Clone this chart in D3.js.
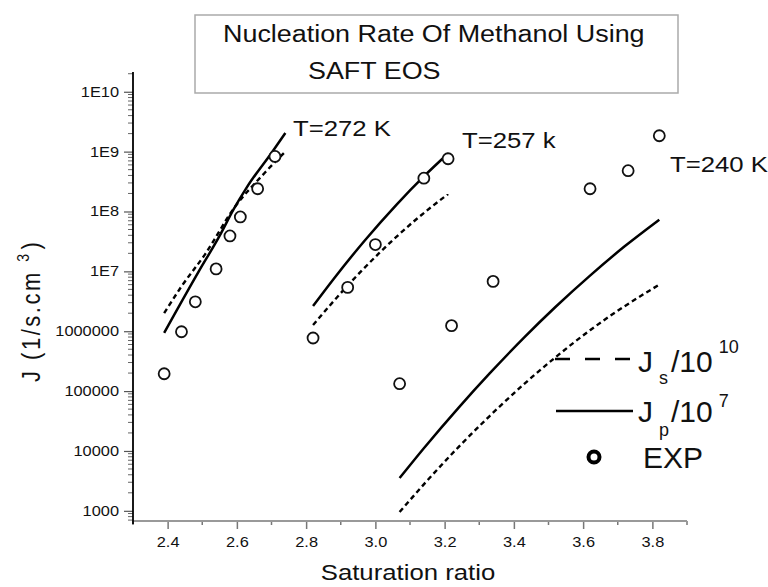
<!DOCTYPE html>
<html>
<head>
<meta charset="utf-8">
<script src="https://cdn.jsdelivr.net/npm/d3@7"></script>
<style>
  body { margin: 0; background: #fff; }
  text { font-family: "Liberation Sans", Arial, sans-serif; fill: #111; }
</style>
</head>
<body>
<svg id="chart" width="768" height="587"></svg>
<script>
// experimental points (EXP)
var satExp272 = [2.39, 2.44, 2.48, 2.54, 2.58, 2.61, 2.66, 2.71];
var jExp272 = [1.95e5, 9.8e5, 3.1e6, 1.1e7, 3.9e7, 8.1e7, 2.4e8, 8.3e8];
var satExp257 = [2.82, 2.92, 3.00, 3.14, 3.21];
var jExp257 = [7.7e5, 5.4e6, 2.8e7, 3.6e8, 7.6e8];
var satExp240 = [3.07, 3.22, 3.34, 3.62, 3.73, 3.82];
var jExp240 = [1.33e5, 1.24e6, 6.8e6, 2.4e8, 4.8e8, 1.84e9];

// Jp/10^7 (solid) and Js/10^10 (dashed)
var satJp272 = [2.39, 2.49, 2.55, 2.59, 2.63, 2.70, 2.74];
var jp272 = [9.4e5, 1.0e7, 3.9e7, 1.07e8, 2.6e8, 9.5e8, 2.04e9];
var satJs272 = [2.39, 2.44, 2.51, 2.59, 2.68, 2.74];
var js272 = [2.0e6, 5.6e6, 2.0e7, 1.1e8, 4.4e8, 1.0e9];
var satJp257 = [2.82, 2.88, 2.97, 3.06, 3.14, 3.21];
var jp257 = [2.64e6, 7.55e6, 3.31e7, 1.28e8, 3.85e8, 9.3e8];
var satJs257 = [2.82, 2.92, 3.01, 3.11, 3.21];
var js257 = [1.27e6, 5.8e6, 1.99e7, 6.76e7, 1.96e8];
var satJ240 = [3.07, 3.14, 3.24, 3.33, 3.43, 3.52, 3.62, 3.72, 3.82];
var jp240 = [3.53e3, 1.11e4, 5.25e4, 1.97e5, 7.9e5, 2.54e6, 8.5e6, 2.62e7, 7.3e7];
var js240 = [955, 2.77e3, 1.16e4, 3.83e4, 1.32e5, 3.66e5, 1.04e6, 2.62e6, 6.0e6];

var xTicks = [2.4, 2.6, 2.8, 3.0, 3.2, 3.4, 3.6, 3.8];
var yTicks = [1e3, 1e4, 1e5, 1e6, 1e7, 1e8, 1e9, 1e10];
var tempLabels = ["T=272 K", "T=257 k", "T=240 K"];

var svg = d3.select("#chart");
var stretch = 1.17; // the figure's lettering is a bit wide

var x = d3.scaleLinear().domain([2.3, 3.9]).range([133, 687]);
var y = d3.scaleLog().domain([Math.pow(10, 2.83), Math.pow(10, 10.33)]).range([521, 72]);

function zip(xs, ys) {
    return xs.map(function (v, i) { return [v, ys[i]]; });
}

function wideText(px, py, size, str) {
    return svg.append("text")
        .attr("transform", "translate(" + px + "," + py + ") scale(" + stretch + ",1)")
        .style("font-size", size + "px")
        .text(str);
}

// title box
svg.append("rect")
    .attr("x", 195).attr("y", 15)
    .attr("width", 483).attr("height", 78)
    .attr("fill", "#fff")
    .attr("stroke", "#aaa")
    .attr("stroke-width", 1.5);

wideText(223, 42, 23, "Nucleation Rate Of Methanol Using");
wideText(308, 79, 23, "SAFT EOS");

// x axis
var xAxis = svg.append("g")
    .attr("transform", "translate(0,521)")
    .call(d3.axisBottom(x).tickValues(xTicks).tickSize(8).tickPadding(8)
        .tickFormat(d3.format(".1f")));
xAxis.select(".domain").remove();
xAxis.selectAll(".tick line").attr("stroke", "#777").attr("stroke-width", 1.5);
xAxis.selectAll(".tick text")
    .style("font-size", "14px").attr("fill", "#222")
    .attr("transform", "scale(" + stretch + ",1)");

var xMinor = d3.range(23, 40, 2).map(function (d) { return d / 10; });
svg.append("g").selectAll("line")
    .data(xMinor)
    .enter().append("line")
    .attr("x1", function (d) { return x(d); })
    .attr("x2", function (d) { return x(d); })
    .attr("y1", 521).attr("y2", 525)
    .attr("stroke", "#777").attr("stroke-width", 1.5);

svg.append("line")
    .attr("x1", x(2.3)).attr("x2", x(3.9))
    .attr("y1", 521).attr("y2", 521)
    .attr("stroke", "#999").attr("stroke-width", 2);

// y axis
var yAxis = svg.append("g")
    .attr("transform", "translate(133,0)")
    .call(d3.axisLeft(y).tickValues(yTicks).tickSize(9).tickPadding(5)
        .tickFormat(function (d) {
            var p = Math.round(Math.log10(d));
            return p >= 7 ? "1E" + p : d3.format("d")(d);
        }));
yAxis.select(".domain").remove();
yAxis.selectAll(".tick line").attr("stroke", "#555").attr("stroke-width", 1.2);
yAxis.selectAll(".tick text")
    .style("font-size", "14px").attr("fill", "#222")
    .attr("x", -14 / stretch)
    .attr("transform", "scale(" + stretch + ",1)");

var yMinor = y.ticks().filter(function (d) {
    return Math.abs(Math.log10(d) - Math.round(Math.log10(d))) > 1e-6;
});
svg.append("g").selectAll("line")
    .data(yMinor)
    .enter().append("line")
    .attr("x1", 128).attr("x2", 133)
    .attr("y1", function (d) { return y(d); })
    .attr("y2", function (d) { return y(d); })
    .attr("stroke", "#666").attr("stroke-width", 1);

svg.append("line")
    .attr("x1", 133).attr("x2", 133)
    .attr("y1", 72).attr("y2", 524)
    .attr("stroke", "#000").attr("stroke-width", 1.8);

// axis titles
wideText(408, 580, 22, "Saturation ratio").attr("text-anchor", "middle");

var yTitle = svg.append("text")
    .attr("transform", "translate(40,382) scale(" + stretch + ",1) rotate(-90)")
    .style("font-size", "22px")
    .style("letter-spacing", "2.5px");
yTitle.append("tspan").text("J (1/s.cm ");
yTitle.append("tspan").attr("dy", -9).style("font-size", "14px").text("3");
yTitle.append("tspan").attr("dy", 9).attr("dx", 2).text(")");

// curves
var line = d3.line()
    .x(function (d) { return x(d[0]); })
    .y(function (d) { return y(d[1]); })
    .curve(d3.curveMonotoneX);

var solidCurves = [zip(satJp272, jp272), zip(satJp257, jp257), zip(satJ240, jp240)];
var dashedCurves = [zip(satJs272, js272), zip(satJs257, js257), zip(satJ240, js240)];

svg.append("g").selectAll("path")
    .data(solidCurves)
    .enter().append("path")
    .attr("d", line)
    .attr("fill", "none")
    .attr("stroke", "#000")
    .attr("stroke-width", 2.5);

svg.append("g").selectAll("path")
    .data(dashedCurves)
    .enter().append("path")
    .attr("d", line)
    .attr("fill", "none")
    .attr("stroke", "#000")
    .attr("stroke-width", 2.4)
    .attr("stroke-dasharray", "5,3.5");

// experimental points
var expPoints = zip(satExp272, jExp272)
    .concat(zip(satExp257, jExp257))
    .concat(zip(satExp240, jExp240));

svg.append("g").selectAll("circle")
    .data(expPoints)
    .enter().append("circle")
    .attr("cx", function (d) { return x(d[0]); })
    .attr("cy", function (d) { return y(d[1]); })
    .attr("r", 5.5)
    .attr("fill", "#fff")
    .attr("stroke", "#111")
    .attr("stroke-width", 1.8);

// temperature labels
var tempPos = [[293, 136], [462, 148], [670, 172]];
tempLabels.forEach(function (d, i) {
    wideText(tempPos[i][0], tempPos[i][1], 22, d);
});

// legend
var legend = svg.append("g");
legend.append("line")
    .attr("x1", 555).attr("x2", 631).attr("y1", 359).attr("y2", 359)
    .attr("stroke", "#000").attr("stroke-width", 2.5)
    .attr("stroke-dasharray", "15,15");
legend.append("line")
    .attr("x1", 556).attr("x2", 633).attr("y1", 411).attr("y2", 411)
    .attr("stroke", "#000").attr("stroke-width", 2.5);
legend.append("circle")
    .attr("cx", 594).attr("cy", 457).attr("r", 5.5)
    .attr("fill", "#fff").attr("stroke", "#000").attr("stroke-width", 4);

function legendLabel(yBase, sub, sup, subDy, supDy) {
    var t = legend.append("text").attr("x", 638).attr("y", yBase).style("font-size", "30px");
    t.append("tspan").text("J");
    t.append("tspan").attr("x", 659).attr("dy", subDy).style("font-size", "18px").text(sub);
    t.append("tspan").attr("x", 671).attr("dy", -subDy).text("/10");
    t.append("tspan").attr("dx", 6).attr("dy", supDy).style("font-size", "18px").text(sup);
}
legendLabel(372, "s", "10", 12, -19);
legendLabel(422, "p", "7", 14, -15);

legend.append("text").attr("x", 643).attr("y", 468)
    .style("font-size", "30px")
    .text("EXP");
</script>
</body>
</html>
